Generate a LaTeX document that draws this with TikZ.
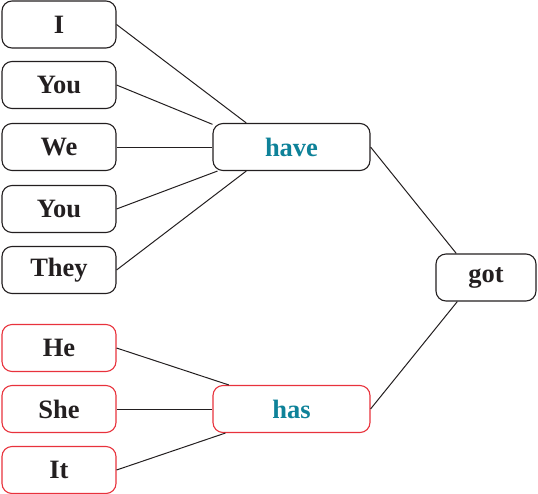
\documentclass[tikz,border=0pt]{standalone}
\usepackage{fontspec}
\setmainfont{Liberation Serif}
\definecolor{teal1}{HTML}{0E8299}
\definecolor{red1}{HTML}{E8323C}
\definecolor{ink}{HTML}{231F20}
\begin{document}
\begin{tikzpicture}[x=1pt,y=-1pt,
  box/.style={draw=ink,line width=1.1pt,rounded corners=10pt,minimum width=114pt,minimum height=47pt,
    font=\fontsize{26.5}{30}\selectfont\bfseries,text=ink,inner sep=0pt},
  redbox/.style={box,draw=red1},
  verb/.style={box,minimum width=157pt,text=teal1},
  link/.style={draw=ink,line width=1pt}]
\useasboundingbox (0,0) rectangle (538,493);
\node[box] (i) at (59,24.5) {I};
\node[box] (you) at (59,85) {You};
\node[box] (we) at (59,147) {We};
\node[box] (you2) at (59,209) {You};
\node[box] (they) at (59,270) {They};
\node[redbox] (he) at (59,348) {He};
\node[redbox] (she) at (59,409) {She};
\node[redbox] (it) at (59,470) {It};
\node[verb] (have) at (291.5,147) {have};
\node[verb,draw=red1] (has) at (291.5,409) {has};
\node[box,minimum width=100pt] (got) at (486,277.5) {got};
\draw[link] (i.east) -- (have.152);
\draw[link] (you.east) -- (have.164);
\draw[link] (we.east) -- (have.180);
\draw[link] (you2.east) -- (have.198);
\draw[link] (they.east) -- (have.208);
\draw[link] (he.east) -- (has.159);
\draw[link] (she.east) -- (has.180);
\draw[link] (it.east) -- (has.200);
\draw[link] (have.east) -- (got.141);
\draw[link] (has.east) -- (got.220);
\end{tikzpicture}
\end{document}
